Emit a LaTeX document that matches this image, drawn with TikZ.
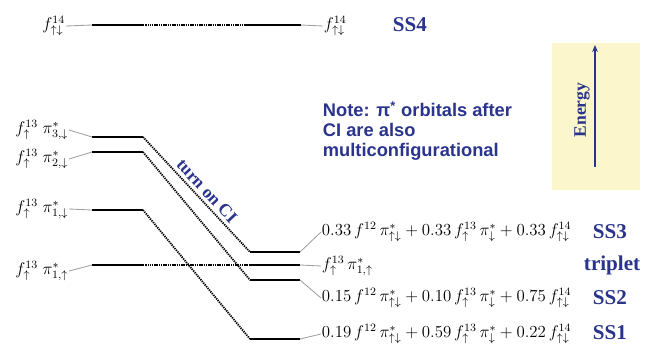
\documentclass[tikz,border=0pt]{standalone}
\usepackage{fontspec}
\setmainfont{Liberation Serif}
\newfontfamily\notefont{Liberation Sans}
\usepackage{amsmath}
\usetikzlibrary{arrows.meta}
\definecolor{labelblue}{RGB}{42, 52, 140}
\definecolor{boxyellow}{RGB}{251, 246, 204}
\definecolor{linkgray}{RGB}{160, 160, 160}

\begin{document}
\begin{tikzpicture}[
        x=0.025cm, y=-0.025cm,
        every node/.style={font=\fontsize{12}{14}\selectfont, inner sep=0.5pt},
        level/.style={line width=1.8pt, black},
        corr/.style={line width=1.3pt, dash pattern=on 0.9pt off 0.7pt, black},
        link/.style={linkgray, line width=0.6pt},
        tag/.style={text=labelblue, font=\fontsize{15}{17}\selectfont\bfseries}
    ]
        \useasboundingbox (0,0) rectangle (654,350);

        % Energy box
        \fill[boxyellow] (552,43) rectangle (640,190);
        \coordinate (ebot) at (595,167);
        \coordinate (etop) at (595,45);
        \draw[-{Stealth[length=5pt,width=4pt]}, labelblue, line width=1pt] (ebot) -- (etop);
        \node[tag, font=\fontsize{12.5}{14}\selectfont\bfseries, rotate=90] (energy) at (582,110) {Energy};

        % Level ends, left column
        \coordinate (s4a) at (92,25);   \coordinate (s4b) at (143,25);
        \coordinate (p3a) at (92,137);  \coordinate (p3b) at (143,137);
        \coordinate (p2a) at (92,152);  \coordinate (p2b) at (143,152);
        \coordinate (d1a) at (92,210);  \coordinate (d1b) at (143,210);
        \coordinate (u1a) at (92,265);  \coordinate (u1b) at (143,265);

        % Level ends, right column
        \coordinate (r4a) at (248,25);  \coordinate (r4b) at (301,25);
        \coordinate (ss3a) at (250,252); \coordinate (ss3b) at (300,252);
        \coordinate (tra) at (250,265);  \coordinate (trb) at (300,265);
        \coordinate (ss2a) at (250,280); \coordinate (ss2b) at (300,280);
        \coordinate (ss1a) at (250,339); \coordinate (ss1b) at (300,339);

        % Levels
        \foreach \a/\b in {s4a/s4b, p3a/p3b, p2a/p2b, d1a/d1b, u1a/u1b,
                           r4a/r4b, ss3a/ss3b, tra/trb, ss2a/ss2b, ss1a/ss1b}
            \draw[level] (\a) -- (\b);

        % Correlation lines
        \draw[corr] (s4b) -- (r4a);
        \draw[corr] (p3b) -- (ss3a);
        \draw[corr] (p2b) -- (ss2a);
        \draw[corr] (d1b) -- (ss1a);
        \draw[corr] (u1b) -- (tra);

        % Left labels
        \node[anchor=east] (lab4) at (66,26) {$f^{14}_{\uparrow\downarrow}$};
        \node[anchor=east] (lab3) at (69,130) {$f^{13}_{\uparrow}\;\pi^{*}_{3,\downarrow}$};
        \node[anchor=east] (lab2) at (69,159) {$f^{13}_{\uparrow}\;\pi^{*}_{2,\downarrow}$};
        \node[anchor=east] (labd) at (69,209) {$f^{13}_{\uparrow}\;\pi^{*}_{1,\downarrow}$};
        \node[anchor=east] (labu) at (69,271) {$f^{13}_{\uparrow}\;\pi^{*}_{1,\uparrow}$};

        \draw[link] (lab4.east) -- (s4a);
        \draw[link] (lab3.east) -- (p3a);
        \draw[link] (lab2.east) -- (p2a);
        \draw[link] (labd.east) -- (d1a);
        \draw[link] (labu.east) -- (u1a);

        % Right labels
        \node[anchor=west] (rlab4) at (323,26) {$f^{14}_{\uparrow\downarrow}$};
        \node[anchor=west] (rss3) at (321,232) {$0.33\,f^{12}\,\pi^{*}_{\uparrow\downarrow}+0.33\,f^{13}_{\uparrow}\,\pi^{*}_{\downarrow}+0.33\,f^{14}_{\uparrow\downarrow}$};
        \node[anchor=west] (rtr) at (321,266) {$f^{13}_{\uparrow}\,\pi^{*}_{1,\uparrow}$};
        \node[anchor=west] (rss2) at (321,298) {$0.15\,f^{12}\,\pi^{*}_{\uparrow\downarrow}+0.10\,f^{13}_{\uparrow}\,\pi^{*}_{\downarrow}+0.75\,f^{14}_{\uparrow\downarrow}$};
        \node[anchor=west] (rss1) at (321,334) {$0.19\,f^{12}\,\pi^{*}_{\uparrow\downarrow}+0.59\,f^{13}_{\uparrow}\,\pi^{*}_{\downarrow}+0.22\,f^{14}_{\uparrow\downarrow}$};

        \draw[link] (r4b) -- (rlab4.west);
        \draw[link] (ss3b) -- (rss3.west);
        \draw[link] (trb) -- (rtr.west);
        \draw[link] (ss2b) -- (rss2.west);
        \draw[link] (ss1b) -- (rss1.west);

        % State names
        \node[tag, anchor=west] (ss4) at (392,25) {SS4};
        \node[tag, anchor=west] (ss3) at (592,232) {SS3};
        \node[tag, anchor=west] (trip) at (583,265) {triplet};
        \node[tag, anchor=west] (ss2) at (592,298) {SS2};
        \node[tag, anchor=west] (ss1) at (592,333) {SS1};

        % Notes
        \node[tag, font=\fontsize{12.5}{14}\selectfont\bfseries, rotate=-47] (turn) at (207,191) {turn on CI};
        \node[anchor=west, align=left, text=labelblue,
              font=\notefont\fontsize{13}{14.5}\selectfont\bfseries] (note) at (322,131)
              {Note: π\textsuperscript{*} orbitals after\\CI are also\\multiconfigurational};
    \end{tikzpicture}
\end{document}
